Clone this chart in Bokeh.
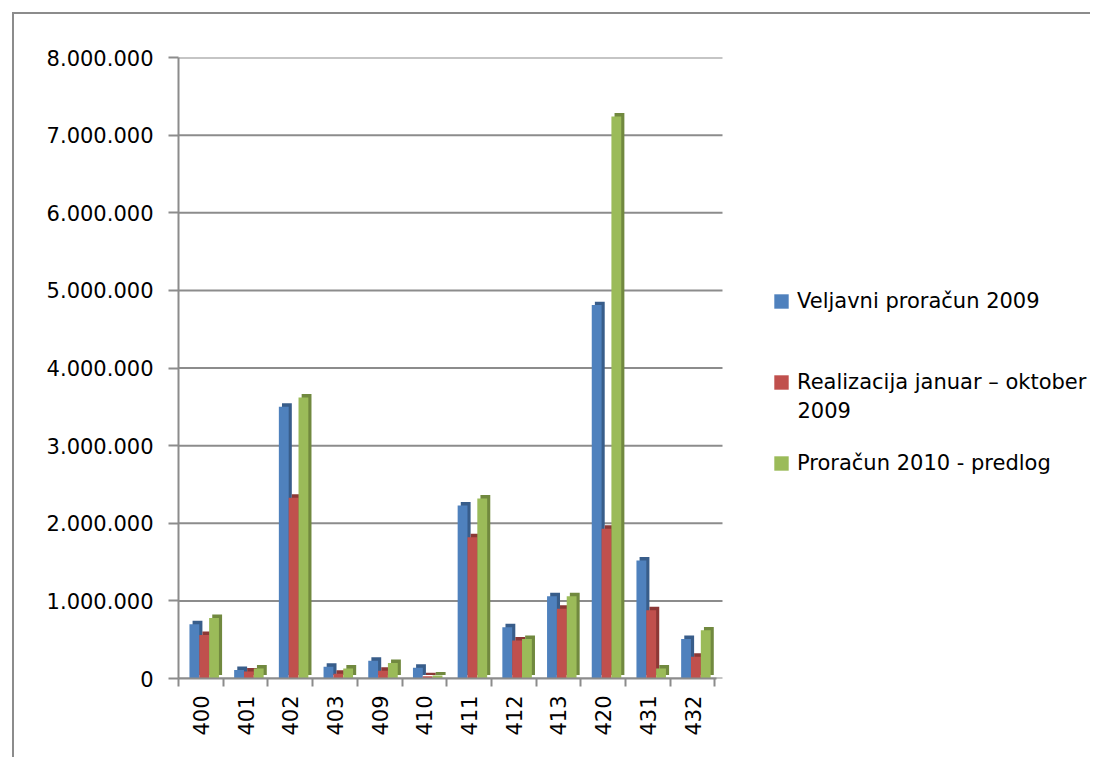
import math
from bokeh.plotting import figure
from bokeh.models import (Range1d, FixedTicker, CustomJSTickFormatter, Legend, LegendItem,
                          Label, ColumnDataSource)
from bokeh.embed import file_html
from bokeh.resources import INLINE

categories = ["400", "401", "402", "403", "409", "410", "411", "412", "413", "420", "431", "432"]
veljavni_2009 = [700000, 110000, 3500000, 150000, 230000, 140000, 2230000, 660000, 1060000, 4810000, 1520000, 510000]
realizacija_2009 = [560000, 90000, 2330000, 60000, 100000, 30000, 1820000, 490000, 900000, 1930000, 880000, 280000]
proracun_2010 = [780000, 130000, 3620000, 130000, 200000, 40000, 2320000, 510000, 1060000, 7240000, 130000, 620000]
series_names = ["Veljavni proračun 2009", "Realizacija januar – oktober", "Proračun 2010 - predlog"]
y_ticks = [0, 1000000, 2000000, 3000000, 4000000, 5000000, 6000000, 7000000, 8000000]

face_colors = ["#4F81BD", "#C0504D", "#9BBB59"]
side_colors = ["#385D8A", "#8C3836", "#71893F"]
offsets = [-0.145, 0.075, 0.295]
bar_w = 0.22
dx, dy = 0.07, 45000
GRAY = "#8c8c8c"
FONT = "DejaVu Sans"

W, H = 1090, 757
frame_left, frame_top, frame_bottom = 178, 57, 678
cat_px = 44.7
x_end = (W - frame_left) / cat_px
axis_end = 12.04
grid_end = 12.17

p = figure(width=W, height=H, x_range=Range1d(0, x_end), y_range=Range1d(0, 8000000),
           output_backend="svg", toolbar_location=None,
           min_border_left=frame_left, min_border_right=0, min_border_top=frame_top,
           min_border_bottom=H - frame_bottom)
p.outline_line_color = None
p.background_fill_color = "white"
p.border_fill_alpha = 0
p.styles = {
    "background": ("linear-gradient(#8c8c8c,#8c8c8c) 12px 12px / 2px calc(100% - 12px) no-repeat, "
                   "linear-gradient(#8c8c8c,#8c8c8c) 12px 12px / calc(100% - 12px) 2px no-repeat, white"),
}
p.xgrid.visible = False
p.ygrid.visible = False

n = len(categories)
centers = [i + 0.5 for i in range(n)]
bounds = [i for i in range(n + 1)]

# horizontal gridlines on the back wall, only as wide as the plot area
p.segment(x0=[0] * len(y_ticks), x1=[grid_end] * len(y_ticks), y0=y_ticks, y1=y_ticks,
          line_color=GRAY, line_width=2)

# y axis
p.yaxis.ticker = FixedTicker(ticks=y_ticks, minor_ticks=[])
p.yaxis.formatter = CustomJSTickFormatter(
    code="return Math.round(tick).toString().replace(/\\B(?=(\\d{3})+(?!\\d))/g, '.');")
p.yaxis.axis_line_color = GRAY
p.yaxis.axis_line_width = 2
p.yaxis.major_tick_line_color = GRAY
p.yaxis.major_tick_line_width = 2
p.yaxis.major_tick_out = 10
p.yaxis.major_tick_in = 0
p.yaxis.minor_tick_line_color = None
p.yaxis.major_label_standoff = 15
p.yaxis.major_label_text_font = FONT
p.yaxis.major_label_text_font_size = "21px"
p.yaxis.major_label_text_color = "black"

# x axis
p.xaxis.bounds = (0, axis_end)
p.xaxis.ticker = FixedTicker(ticks=centers, minor_ticks=bounds)
p.xaxis.major_label_overrides = {c: lab for c, lab in zip(centers, categories)}
p.xaxis.major_label_orientation = math.pi / 2
p.xaxis.axis_line_color = GRAY
p.xaxis.axis_line_width = 2
p.xaxis.major_tick_line_color = None
p.xaxis.major_tick_out = 0
p.xaxis.major_tick_in = 0
p.xaxis.minor_tick_line_color = GRAY
p.xaxis.minor_tick_line_width = 2
p.xaxis.minor_tick_out = 8
p.xaxis.minor_tick_in = 0
p.xaxis.major_label_standoff = 9
p.xaxis.major_label_text_font = FONT
p.xaxis.major_label_text_font_size = "21px"
p.xaxis.major_label_text_color = "black"

fronts = []
for k, vals in enumerate([veljavni_2009, realizacija_2009, proracun_2010]):
    xs = [c + offsets[k] for c in centers]
    src = ColumnDataSource(dict(
        left=[x - bar_w / 2 for x in xs], right=[x + bar_w / 2 for x in xs],
        top=vals, bottom=[0] * n,
        sl=[x - bar_w / 2 + dx for x in xs], sr=[x + bar_w / 2 + dx for x in xs],
        st=[v + dy for v in vals], sb=[dy] * n))
    p.quad(left="sl", right="sr", top="st", bottom="sb", source=src,
           fill_color=side_colors[k], line_color=None)
    r = p.quad(left="left", right="right", top="top", bottom="bottom", source=src,
               fill_color=face_colors[k], line_color=None)
    fronts.append(r)

legend_kw = dict(glyph_width=18, glyph_height=18, label_text_font=FONT,
                 label_text_font_size="21px", label_text_color="black", label_standoff=7,
                 padding=0, margin=0, border_line_alpha=0, background_fill_alpha=0,
                 spacing=0, label_height=18)
legend_ys = [365, 284, 203]
for k in range(3):
    lg = Legend(items=[LegendItem(label=series_names[k], renderers=[fronts[k]])],
                location=(594, legend_ys[k]), **legend_kw)
    p.add_layout(lg, "center")

p.add_layout(Label(x=797, y=409, x_units="canvas", y_units="canvas", text="2009",
                   text_font=FONT, text_font_size="21px", text_color="black",
                   text_baseline="middle"))

open("out.html", "w").write(file_html(p, INLINE))
